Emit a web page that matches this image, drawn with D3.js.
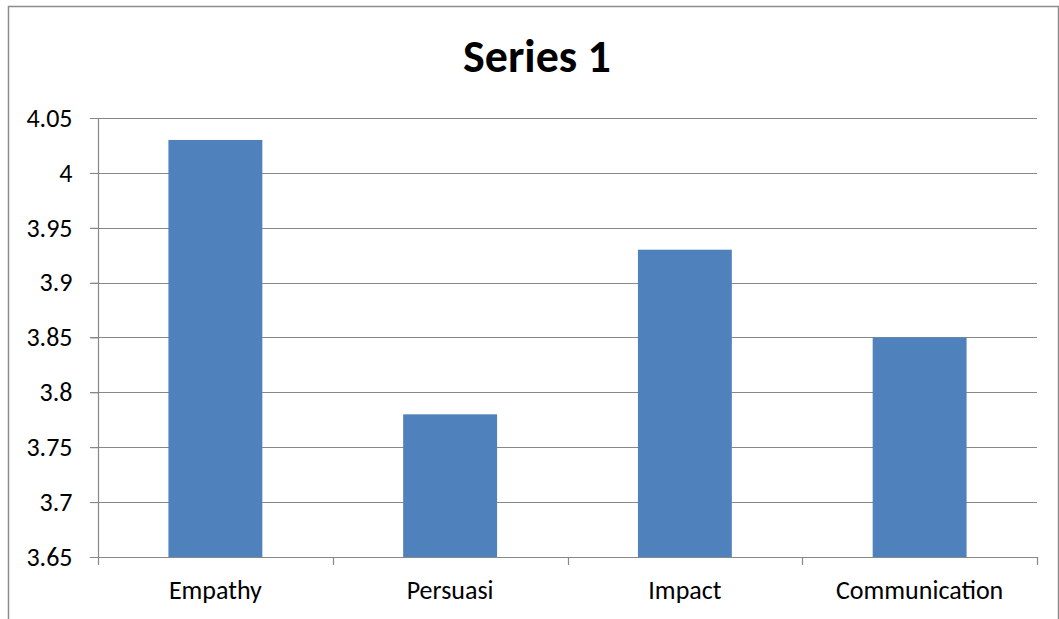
<!DOCTYPE html>
<html>
<head>
<meta charset="utf-8">
<script src="https://cdn.jsdelivr.net/npm/d3@7"></script>
<style>
  body { margin: 0; background: #fff; }
  svg { display: block; }
</style>
</head>
<body>
<script>
// data
var TITLE = "Series 1";
var CATEGORIES = ["Empathy", "Persuasi", "Impact", "Communication"];
var VALUES = [4.03, 3.78, 3.93, 3.85];
var Y_TICKS = [3.65, 3.7, 3.75, 3.8, 3.85, 3.9, 3.95, 4, 4.05];

var WIDTH = 1059, HEIGHT = 619;
var PLOT_LEFT = 98, PLOT_RIGHT = 1037;
var PLOT_TOP = 118, PLOT_BOTTOM = 557;

var BAR_COLOR = "#4f81bd";
var GRID_COLOR = "#888888";
var FONT = "Carlito, Calibri, 'Open Sans', 'Liberation Sans', sans-serif";

var svg = d3.select("body").append("svg")
    .attr("width", WIDTH)
    .attr("height", HEIGHT);

svg.append("rect")
    .attr("width", WIDTH)
    .attr("height", HEIGHT)
    .attr("fill", "#fff");

// chart frame
svg.append("rect")
    .attr("x", 8.5).attr("y", 6.5)
    .attr("width", 1050).attr("height", 700)
    .attr("fill", "none")
    .attr("stroke", "#8c8c8c")
    .attr("stroke-width", 1.5);

svg.append("text")
    .attr("x", 537)
    .attr("y", 72)
    .attr("text-anchor", "middle")
    .style("font-family", FONT)
    .style("font-weight", "bold")
    .style("font-size", "46px")
    .text(TITLE);

var x = d3.scaleBand()
    .domain(CATEGORIES)
    .range([PLOT_LEFT, PLOT_RIGHT])
    .paddingInner(0.6)
    .paddingOuter(0.3);

var y = d3.scaleLinear()
    .domain([3.65, 4.05])
    .range([PLOT_BOTTOM, PLOT_TOP]);

// gridlines
svg.append("g")
  .selectAll("line")
  .data(Y_TICKS)
  .join("line")
    .attr("x1", PLOT_LEFT - 8)
    .attr("x2", PLOT_RIGHT)
    .attr("y1", d => Math.round(y(d)) + 0.5)
    .attr("y2", d => Math.round(y(d)) + 0.5)
    .attr("stroke", GRID_COLOR)
    .attr("stroke-width", 1.2);

// bars
svg.append("g")
  .selectAll("rect")
  .data(VALUES)
  .join("rect")
    .attr("x", (d, i) => x(CATEGORIES[i]))
    .attr("y", d => y(d))
    .attr("width", x.bandwidth())
    .attr("height", d => PLOT_BOTTOM - y(d))
    .attr("fill", BAR_COLOR);

// y axis
var yAxis = svg.append("g")
    .attr("transform", "translate(" + (PLOT_LEFT + 0.5) + ",0)")
    .call(d3.axisLeft(y).tickValues(Y_TICKS).tickSize(8).tickPadding(18)
        .tickFormat(d => d3.format("")(+d.toFixed(2))));

// x axis
var xAxis = svg.append("g")
    .attr("transform", "translate(0," + (PLOT_BOTTOM + 0.5) + ")")
    .call(d3.axisBottom(x).tickSize(0).tickPadding(23));

// category boundary ticks
var bounds = d3.range(CATEGORIES.length + 1).map(i => PLOT_LEFT + i * (PLOT_RIGHT - PLOT_LEFT) / CATEGORIES.length);
svg.append("g")
  .selectAll("line")
  .data(bounds)
  .join("line")
    .attr("x1", d => Math.round(d) + 0.5)
    .attr("x2", d => Math.round(d) + 0.5)
    .attr("y1", PLOT_BOTTOM)
    .attr("y2", PLOT_BOTTOM + 8)
    .attr("stroke", GRID_COLOR)
    .attr("stroke-width", 1.2);

[yAxis, xAxis].forEach(function (g) {
  g.selectAll(".domain").attr("stroke", GRID_COLOR).attr("stroke-width", 1.2);
  g.selectAll(".tick line").attr("stroke", GRID_COLOR);
  g.selectAll("text")
      .style("font-family", FONT)
      .style("font-size", "26px")
      .attr("fill", "#000");
});
yAxis.selectAll(".domain").attr("d", "M0," + PLOT_TOP + "V" + PLOT_BOTTOM);
xAxis.selectAll(".domain").attr("d", "M" + PLOT_LEFT + ",0H" + PLOT_RIGHT);
</script>
</body>
</html>
